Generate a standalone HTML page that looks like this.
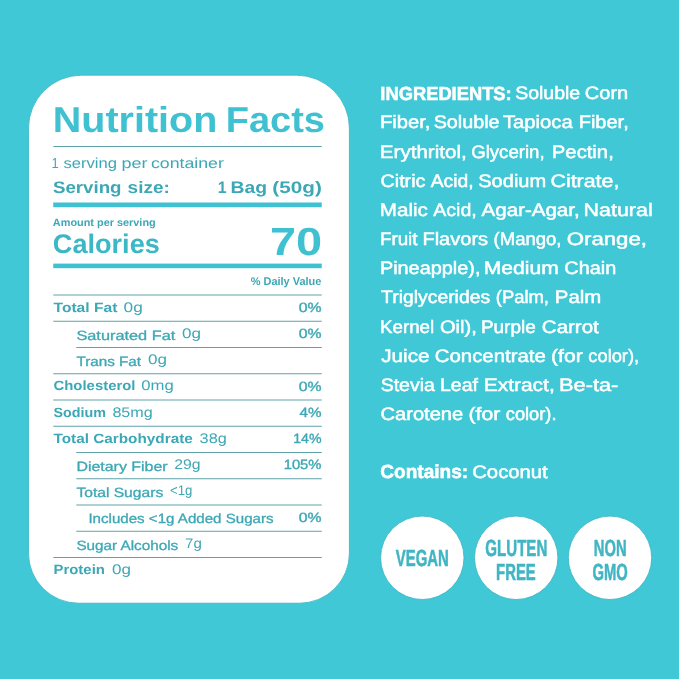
<!DOCTYPE html>
<html lang="en">
<head>
<meta charset="utf-8">
<title>Nutrition Facts</title>
<style>
html,body{margin:0;padding:0;background:#41c8d7;}
body{width:679px;height:679px;overflow:hidden;}
svg{display:block;font-family:'Liberation Sans', Arial, sans-serif;}
text{white-space:pre;text-rendering:geometricPrecision;}
</style>
</head>
<body>
<svg width="679" height="679" viewBox="0 0 679 679">
<rect x="0" y="0" width="679" height="679" fill="#41c8d7"/>
<path fill="#ffffff" stroke="#39b2c2" stroke-width="0.8" d="M81.5 75.2H296.4A53 53 0 0 1 349.4 128.2V553.2A50 50 0 0 1 299.4 603.2H78.5A50 50 0 0 1 28.5 553.2V128.2A53 53 0 0 1 81.5 75.2Z"/>
<text x="52.79" y="132.1" font-size="36.0" font-weight="700" fill="#40c1d1" textLength="164.54" lengthAdjust="spacingAndGlyphs">Nutrition</text>
<text x="225.69" y="132.1" font-size="36.0" font-weight="700" fill="#40c1d1" textLength="99.24" lengthAdjust="spacingAndGlyphs">Facts</text>
<rect x="53.25" y="146.0" width="268.5" height="1" fill="#5fa3a9"/>
<text x="51.41" y="167.7" font-size="14.5" font-weight="400" fill="#3da8b5" textLength="7.21" lengthAdjust="spacingAndGlyphs">1</text>
<text x="63.45" y="167.7" font-size="14.5" font-weight="400" fill="#3da8b5" textLength="53.61" lengthAdjust="spacingAndGlyphs">serving</text>
<text x="121.45" y="167.7" font-size="14.5" font-weight="400" fill="#3da8b5" textLength="26.05" lengthAdjust="spacingAndGlyphs">per</text>
<text x="150.96" y="167.7" font-size="14.5" font-weight="400" fill="#3da8b5" textLength="72.92" lengthAdjust="spacingAndGlyphs">container</text>
<text x="52.98" y="193.4" font-size="16.6" font-weight="700" fill="#3da8b5" textLength="68.58" lengthAdjust="spacingAndGlyphs">Serving</text>
<text x="127.64" y="193.4" font-size="16.6" font-weight="700" fill="#3da8b5" textLength="42.19" lengthAdjust="spacingAndGlyphs">size:</text>
<text x="217.82" y="193.4" font-size="16.6" font-weight="700" fill="#3da8b5" textLength="8.81" lengthAdjust="spacingAndGlyphs">1</text>
<text x="230.52" y="193.4" font-size="16.6" font-weight="700" fill="#3da8b5" textLength="36.58" lengthAdjust="spacingAndGlyphs">Bag</text>
<text x="272.39" y="193.4" font-size="16.6" font-weight="700" fill="#3da8b5" textLength="49.43" lengthAdjust="spacingAndGlyphs">(50g)</text>
<rect x="53.25" y="202.5" width="268.5" height="4.7" fill="#40c1d1"/>
<text x="52.84" y="226.1" font-size="10.6" font-weight="700" fill="#3da8b5" textLength="102.89" lengthAdjust="spacingAndGlyphs">Amount per serving</text>
<text x="52.89" y="252.9" font-size="26.8" font-weight="700" fill="#3cb7c6" textLength="106.9" lengthAdjust="spacingAndGlyphs">Calories</text>
<text x="270.03" y="255.0" font-size="39.2" font-weight="700" fill="#40c1d1" textLength="52.16" lengthAdjust="spacingAndGlyphs">70</text>
<rect x="53.25" y="263.6" width="268.5" height="4.6" fill="#40c1d1"/>
<text x="321.3" y="285" font-size="11.2" font-weight="700" fill="#3da8b5" text-anchor="end" textLength="70.5" lengthAdjust="spacingAndGlyphs">% Daily Value</text>
<rect x="53.25" y="294.5" width="268.5" height="1" fill="#5fa3a9"/>
<text x="53.5" y="311.7" font-size="13.4" font-weight="700" fill="#3da8b5" textLength="63.9" lengthAdjust="spacingAndGlyphs">Total Fat</text>
<text x="123.6" y="311.7" font-size="14" font-weight="400" fill="#3da8b5" textLength="19.2" lengthAdjust="spacingAndGlyphs">0g</text>
<text x="321.5" y="311.9" font-size="13.4" font-weight="400" fill="#3da8b5" text-anchor="end" textLength="22.8" lengthAdjust="spacingAndGlyphs" stroke="#3da8b5" stroke-width="0.38">0%</text>
<rect x="53.25" y="320.75" width="268.5" height="1" fill="#5fa3a9"/>
<text x="76.4" y="339.55" font-size="13.4" font-weight="400" fill="#3da8b5" textLength="98.9" lengthAdjust="spacingAndGlyphs" stroke="#3da8b5" stroke-width="0.32">Saturated Fat</text>
<text x="182" y="337.95" font-size="14" font-weight="400" fill="#3da8b5" textLength="19" lengthAdjust="spacingAndGlyphs">0g</text>
<text x="321.5" y="338.15" font-size="13.4" font-weight="400" fill="#3da8b5" text-anchor="end" textLength="22.8" lengthAdjust="spacingAndGlyphs" stroke="#3da8b5" stroke-width="0.38">0%</text>
<rect x="76.3" y="347.0" width="245.45" height="1" fill="#5fa3a9"/>
<text x="76.4" y="365.8" font-size="13.4" font-weight="400" fill="#3da8b5" textLength="64.7" lengthAdjust="spacingAndGlyphs" stroke="#3da8b5" stroke-width="0.32">Trans Fat</text>
<text x="148" y="364.2" font-size="14" font-weight="400" fill="#3da8b5" textLength="19" lengthAdjust="spacingAndGlyphs">0g</text>
<rect x="53.25" y="373.25" width="268.5" height="1" fill="#5fa3a9"/>
<text x="53.5" y="390.45" font-size="13.4" font-weight="700" fill="#3da8b5" textLength="82" lengthAdjust="spacingAndGlyphs">Cholesterol</text>
<text x="141.2" y="390.45" font-size="14" font-weight="400" fill="#3da8b5" textLength="32.5" lengthAdjust="spacingAndGlyphs">0mg</text>
<text x="321.5" y="390.65" font-size="13.4" font-weight="400" fill="#3da8b5" text-anchor="end" textLength="22.8" lengthAdjust="spacingAndGlyphs" stroke="#3da8b5" stroke-width="0.38">0%</text>
<rect x="53.25" y="399.5" width="268.5" height="1" fill="#5fa3a9"/>
<text x="53.5" y="416.7" font-size="13.4" font-weight="700" fill="#3da8b5" textLength="52.5" lengthAdjust="spacingAndGlyphs">Sodium</text>
<text x="112.4" y="416.7" font-size="14" font-weight="400" fill="#3da8b5" textLength="40.4" lengthAdjust="spacingAndGlyphs">85mg</text>
<text x="321.5" y="416.9" font-size="13.4" font-weight="400" fill="#3da8b5" text-anchor="end" textLength="22" lengthAdjust="spacingAndGlyphs" stroke="#3da8b5" stroke-width="0.38">4%</text>
<rect x="53.25" y="425.75" width="268.5" height="1" fill="#5fa3a9"/>
<text x="53.5" y="442.95" font-size="13.4" font-weight="700" fill="#3da8b5" textLength="139.3" lengthAdjust="spacingAndGlyphs">Total Carbohydrate</text>
<text x="199.6" y="442.95" font-size="14" font-weight="400" fill="#3da8b5" textLength="27.2" lengthAdjust="spacingAndGlyphs">38g</text>
<text x="321.5" y="443.15" font-size="13.4" font-weight="400" fill="#3da8b5" text-anchor="end" textLength="28.3" lengthAdjust="spacingAndGlyphs" stroke="#3da8b5" stroke-width="0.38">14%</text>
<rect x="76.3" y="452.0" width="245.45" height="1" fill="#5fa3a9"/>
<text x="76.4" y="470.8" font-size="13.4" font-weight="400" fill="#3da8b5" textLength="91.3" lengthAdjust="spacingAndGlyphs" stroke="#3da8b5" stroke-width="0.32">Dietary Fiber</text>
<text x="174.2" y="469.2" font-size="14" font-weight="400" fill="#3da8b5" textLength="26.4" lengthAdjust="spacingAndGlyphs">29g</text>
<text x="321.5" y="469.4" font-size="13.4" font-weight="400" fill="#3da8b5" text-anchor="end" textLength="37.8" lengthAdjust="spacingAndGlyphs" stroke="#3da8b5" stroke-width="0.38">105%</text>
<rect x="76.3" y="478.25" width="245.45" height="1" fill="#5fa3a9"/>
<text x="76.4" y="497.05" font-size="13.4" font-weight="400" fill="#3da8b5" textLength="86.8" lengthAdjust="spacingAndGlyphs" stroke="#3da8b5" stroke-width="0.32">Total Sugars</text>
<text x="170" y="495.45" font-size="14" font-weight="400" fill="#3da8b5" textLength="22.4" lengthAdjust="spacingAndGlyphs">&lt;1g</text>
<rect x="76.3" y="504.5" width="245.45" height="1" fill="#5fa3a9"/>
<text x="88.4" y="523.3" font-size="13.4" font-weight="400" fill="#3da8b5" textLength="185.2" lengthAdjust="spacingAndGlyphs" stroke="#3da8b5" stroke-width="0.32">Includes &lt;1g Added Sugars</text>
<text x="321.5" y="521.9" font-size="13.4" font-weight="400" fill="#3da8b5" text-anchor="end" textLength="22.8" lengthAdjust="spacingAndGlyphs" stroke="#3da8b5" stroke-width="0.38">0%</text>
<rect x="76.3" y="530.75" width="245.45" height="1" fill="#5fa3a9"/>
<text x="76.4" y="549.55" font-size="13.4" font-weight="400" fill="#3da8b5" textLength="101.8" lengthAdjust="spacingAndGlyphs" stroke="#3da8b5" stroke-width="0.32">Sugar Alcohols</text>
<text x="185" y="547.95" font-size="14" font-weight="400" fill="#3da8b5" textLength="16.8" lengthAdjust="spacingAndGlyphs">7g</text>
<rect x="53.25" y="557.0" width="268.5" height="1" fill="#5fa3a9"/>
<text x="53.5" y="574.2" font-size="13.4" font-weight="700" fill="#3da8b5" textLength="51.4" lengthAdjust="spacingAndGlyphs">Protein</text>
<text x="112" y="574.2" font-size="14" font-weight="400" fill="#3da8b5" textLength="19" lengthAdjust="spacingAndGlyphs">0g</text>
<text x="380.37" y="99.6" font-size="19.0" font-weight="700" fill="#ffffff" textLength="131.32" lengthAdjust="spacingAndGlyphs" stroke="#ffffff" stroke-width="0.55">INGREDIENTS:</text>
<text x="515.17" y="99.3" font-size="18" font-weight="400" fill="#ffffff" textLength="65.03" lengthAdjust="spacingAndGlyphs" stroke="#ffffff" stroke-width="0.5">Soluble</text>
<text x="584.85" y="99.3" font-size="18" font-weight="400" fill="#ffffff" textLength="43.39" lengthAdjust="spacingAndGlyphs" stroke="#ffffff" stroke-width="0.5">Corn</text>
<text x="379.9" y="128.45" font-size="18" font-weight="400" fill="#ffffff" textLength="50.47" lengthAdjust="spacingAndGlyphs" stroke="#ffffff" stroke-width="0.5">Fiber,</text>
<text x="433.66" y="128.45" font-size="18" font-weight="400" fill="#ffffff" textLength="65.86" lengthAdjust="spacingAndGlyphs" stroke="#ffffff" stroke-width="0.5">Soluble</text>
<text x="502.9" y="128.45" font-size="18" font-weight="400" fill="#ffffff" textLength="69.82" lengthAdjust="spacingAndGlyphs" stroke="#ffffff" stroke-width="0.5">Tapioca</text>
<text x="578.71" y="128.45" font-size="18" font-weight="400" fill="#ffffff" textLength="50.04" lengthAdjust="spacingAndGlyphs" stroke="#ffffff" stroke-width="0.5">Fiber,</text>
<text x="379.86" y="157.6" font-size="18" font-weight="400" fill="#ffffff" textLength="86.84" lengthAdjust="spacingAndGlyphs" stroke="#ffffff" stroke-width="0.5">Erythritol,</text>
<text x="471.22" y="157.6" font-size="18" font-weight="400" fill="#ffffff" textLength="73.39" lengthAdjust="spacingAndGlyphs" stroke="#ffffff" stroke-width="0.5">Glycerin,</text>
<text x="551.89" y="157.6" font-size="18" font-weight="400" fill="#ffffff" textLength="61.88" lengthAdjust="spacingAndGlyphs" stroke="#ffffff" stroke-width="0.5">Pectin,</text>
<text x="380.57" y="186.75" font-size="18" font-weight="400" fill="#ffffff" textLength="44.8" lengthAdjust="spacingAndGlyphs" stroke="#ffffff" stroke-width="0.5">Citric</text>
<text x="430.81" y="186.75" font-size="18" font-weight="400" fill="#ffffff" textLength="42.77" lengthAdjust="spacingAndGlyphs" stroke="#ffffff" stroke-width="0.5">Acid,</text>
<text x="478.25" y="186.75" font-size="18" font-weight="400" fill="#ffffff" textLength="67.9" lengthAdjust="spacingAndGlyphs" stroke="#ffffff" stroke-width="0.5">Sodium</text>
<text x="550.48" y="186.75" font-size="18" font-weight="400" fill="#ffffff" textLength="68.9" lengthAdjust="spacingAndGlyphs" stroke="#ffffff" stroke-width="0.5">Citrate,</text>
<text x="379.86" y="215.9" font-size="18" font-weight="400" fill="#ffffff" textLength="48.01" lengthAdjust="spacingAndGlyphs" stroke="#ffffff" stroke-width="0.5">Malic</text>
<text x="433.31" y="215.9" font-size="18" font-weight="400" fill="#ffffff" textLength="43.4" lengthAdjust="spacingAndGlyphs" stroke="#ffffff" stroke-width="0.5">Acid,</text>
<text x="481.61" y="215.9" font-size="18" font-weight="400" fill="#ffffff" textLength="98.07" lengthAdjust="spacingAndGlyphs" stroke="#ffffff" stroke-width="0.5">Agar-Agar,</text>
<text x="583.59" y="215.9" font-size="18" font-weight="400" fill="#ffffff" textLength="69.09" lengthAdjust="spacingAndGlyphs" stroke="#ffffff" stroke-width="0.5">Natural</text>
<text x="380.01" y="245.05" font-size="18" font-weight="400" fill="#ffffff" textLength="37.47" lengthAdjust="spacingAndGlyphs" stroke="#ffffff" stroke-width="0.5">Fruit</text>
<text x="422.4" y="245.05" font-size="18" font-weight="400" fill="#ffffff" textLength="65.77" lengthAdjust="spacingAndGlyphs" stroke="#ffffff" stroke-width="0.5">Flavors</text>
<text x="493.6" y="245.05" font-size="18" font-weight="400" fill="#ffffff" textLength="67.9" lengthAdjust="spacingAndGlyphs" stroke="#ffffff" stroke-width="0.5">(Mango,</text>
<text x="566.81" y="245.05" font-size="18" font-weight="400" fill="#ffffff" textLength="80.15" lengthAdjust="spacingAndGlyphs" stroke="#ffffff" stroke-width="0.5">Orange,</text>
<text x="379.92" y="274.2" font-size="18" font-weight="400" fill="#ffffff" textLength="100.52" lengthAdjust="spacingAndGlyphs" stroke="#ffffff" stroke-width="0.5">Pineapple),</text>
<text x="483.72" y="274.2" font-size="18" font-weight="400" fill="#ffffff" textLength="74.99" lengthAdjust="spacingAndGlyphs" stroke="#ffffff" stroke-width="0.5">Medium</text>
<text x="564.36" y="274.2" font-size="18" font-weight="400" fill="#ffffff" textLength="51.86" lengthAdjust="spacingAndGlyphs" stroke="#ffffff" stroke-width="0.5">Chain</text>
<text x="381.12" y="303.35" font-size="18" font-weight="400" fill="#ffffff" textLength="109.02" lengthAdjust="spacingAndGlyphs" stroke="#ffffff" stroke-width="0.5">Triglycerides</text>
<text x="495.81" y="303.35" font-size="18" font-weight="400" fill="#ffffff" textLength="53.2" lengthAdjust="spacingAndGlyphs" stroke="#ffffff" stroke-width="0.5">(Palm,</text>
<text x="554.88" y="303.35" font-size="18" font-weight="400" fill="#ffffff" textLength="46.4" lengthAdjust="spacingAndGlyphs" stroke="#ffffff" stroke-width="0.5">Palm</text>
<text x="380.02" y="332.5" font-size="18" font-weight="400" fill="#ffffff" textLength="54.08" lengthAdjust="spacingAndGlyphs" stroke="#ffffff" stroke-width="0.5">Kernel</text>
<text x="439.91" y="332.5" font-size="18" font-weight="400" fill="#ffffff" textLength="36.85" lengthAdjust="spacingAndGlyphs" stroke="#ffffff" stroke-width="0.5">Oil),</text>
<text x="480.9" y="332.5" font-size="18" font-weight="400" fill="#ffffff" textLength="54.78" lengthAdjust="spacingAndGlyphs" stroke="#ffffff" stroke-width="0.5">Purple</text>
<text x="541.83" y="332.5" font-size="18" font-weight="400" fill="#ffffff" textLength="56.96" lengthAdjust="spacingAndGlyphs" stroke="#ffffff" stroke-width="0.5">Carrot</text>
<text x="381.24" y="361.65" font-size="18" font-weight="400" fill="#ffffff" textLength="48.23" lengthAdjust="spacingAndGlyphs" stroke="#ffffff" stroke-width="0.5">Juice</text>
<text x="434.83" y="361.65" font-size="18" font-weight="400" fill="#ffffff" textLength="110.91" lengthAdjust="spacingAndGlyphs" stroke="#ffffff" stroke-width="0.5">Concentrate</text>
<text x="551.04" y="361.65" font-size="18" font-weight="400" fill="#ffffff" textLength="31.65" lengthAdjust="spacingAndGlyphs" stroke="#ffffff" stroke-width="0.5">(for</text>
<text x="588.38" y="361.65" font-size="18" font-weight="400" fill="#ffffff" textLength="50.7" lengthAdjust="spacingAndGlyphs" stroke="#ffffff" stroke-width="0.5">color),</text>
<text x="380.67" y="390.8" font-size="18" font-weight="400" fill="#ffffff" textLength="54.16" lengthAdjust="spacingAndGlyphs" stroke="#ffffff" stroke-width="0.5">Stevia</text>
<text x="439.95" y="390.8" font-size="18" font-weight="400" fill="#ffffff" textLength="37.97" lengthAdjust="spacingAndGlyphs" stroke="#ffffff" stroke-width="0.5">Leaf</text>
<text x="483.73" y="390.8" font-size="18" font-weight="400" fill="#ffffff" textLength="71.0" lengthAdjust="spacingAndGlyphs" stroke="#ffffff" stroke-width="0.5">Extract,</text>
<text x="559.06" y="390.8" font-size="18" font-weight="400" fill="#ffffff" textLength="59.35" lengthAdjust="spacingAndGlyphs" stroke="#ffffff" stroke-width="0.5">Be-ta-</text>
<text x="380.55" y="419.95" font-size="18" font-weight="400" fill="#ffffff" textLength="82.69" lengthAdjust="spacingAndGlyphs" stroke="#ffffff" stroke-width="0.5">Carotene</text>
<text x="468.54" y="419.95" font-size="18" font-weight="400" fill="#ffffff" textLength="31.75" lengthAdjust="spacingAndGlyphs" stroke="#ffffff" stroke-width="0.5">(for</text>
<text x="505.78" y="419.95" font-size="18" font-weight="400" fill="#ffffff" textLength="50.72" lengthAdjust="spacingAndGlyphs" stroke="#ffffff" stroke-width="0.5">color).</text>
<text x="380.29" y="478.2" font-size="19.0" font-weight="700" fill="#ffffff" textLength="87.86" lengthAdjust="spacingAndGlyphs" stroke="#ffffff" stroke-width="0.55">Contains:</text>
<text x="472.24" y="477.9" font-size="18" font-weight="400" fill="#ffffff" textLength="75.45" lengthAdjust="spacingAndGlyphs" stroke="#ffffff" stroke-width="0.5">Coconut</text>
<circle cx="422.3" cy="557.8" r="41.7" fill="#ffffff" stroke="#39b2c2" stroke-width="0.8"/>
<circle cx="516.2" cy="557.8" r="41.7" fill="#ffffff" stroke="#39b2c2" stroke-width="0.8"/>
<circle cx="610" cy="557.8" r="41.7" fill="#ffffff" stroke="#39b2c2" stroke-width="0.8"/>
<text x="422.3" y="565.6" font-size="23.4" font-weight="700" fill="#40b5c3" text-anchor="middle" textLength="53" lengthAdjust="spacingAndGlyphs" stroke="#40b5c3" stroke-width="0.55">VEGAN</text>
<text x="516.3" y="556.3" font-size="23.4" font-weight="700" fill="#40b5c3" text-anchor="middle" textLength="62" lengthAdjust="spacingAndGlyphs" stroke="#40b5c3" stroke-width="0.55">GLUTEN</text>
<text x="515.9" y="579.6" font-size="23.4" font-weight="700" fill="#40b5c3" text-anchor="middle" textLength="39.6" lengthAdjust="spacingAndGlyphs" stroke="#40b5c3" stroke-width="0.55">FREE</text>
<text x="610.2" y="556.3" font-size="23.4" font-weight="700" fill="#40b5c3" text-anchor="middle" textLength="32.8" lengthAdjust="spacingAndGlyphs" stroke="#40b5c3" stroke-width="0.55">NON</text>
<text x="610.2" y="579.6" font-size="23.4" font-weight="700" fill="#40b5c3" text-anchor="middle" textLength="35.3" lengthAdjust="spacingAndGlyphs" stroke="#40b5c3" stroke-width="0.55">GMO</text>
</svg>
</body>
</html>
